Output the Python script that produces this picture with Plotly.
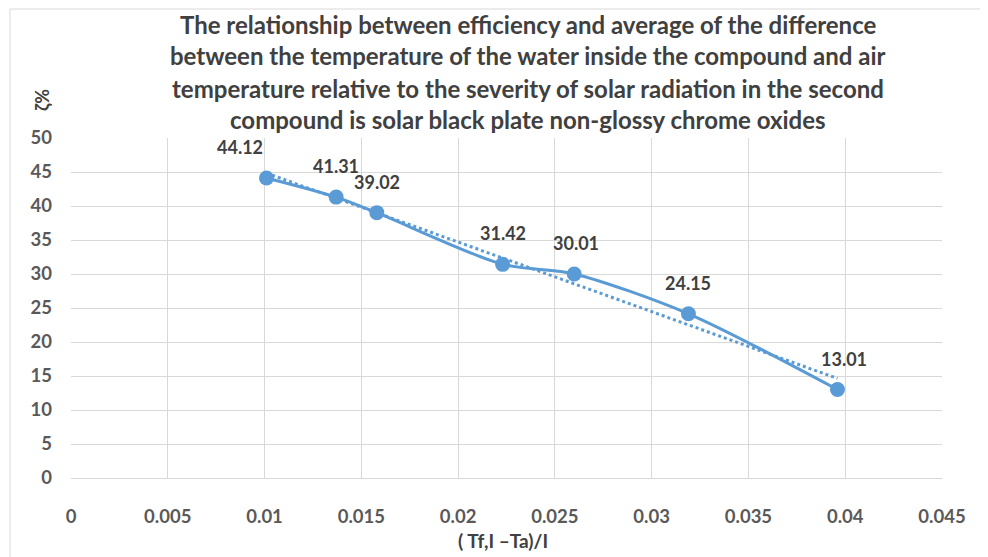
import numpy as np
import plotly.graph_objects as go

# Data
x_vals = [0.0101, 0.0137, 0.0158, 0.0223, 0.0260, 0.0319, 0.0396]
efficiency = [44.12, 41.31, 39.02, 31.42, 30.01, 24.15, 13.01]
x_ticks = [0, 0.005, 0.01, 0.015, 0.02, 0.025, 0.03, 0.035, 0.04, 0.045]
x_tick_text = ["0", "0.005", "0.01", "0.015", "0.02", "0.025", "0.03", "0.035", "0.04", "0.045"]
y_ticks = [0, 5, 10, 15, 20, 25, 30, 35, 40, 45, 50]

title_lines = [
    "The relationship between efficiency and average of the difference",
    "between the temperature of the water inside the compound and air",
    "temperature relative to the severity of solar radiation in the second",
    "compound is solar black plate non-glossy chrome oxides",
]

# label offsets (styling)
label_xshift = [-26, 0, 0, 0, 2, 0, 7]

BLUE = "#5B9BD5"
GRID = "#D9D9D9"
FONT = "Lato"

# linear trendline (least squares on the data, like the spreadsheet trendline)
slope, intercept = np.polyfit(x_vals, efficiency, 1)
trend_x = [min(x_vals), max(x_vals)]
trend_y = [slope * v + intercept for v in trend_x]

fig = go.Figure()
fig.add_trace(go.Scatter(
    x=trend_x, y=trend_y, mode="lines",
    line=dict(color=BLUE, width=3, dash="dot"),
    hoverinfo="skip", showlegend=False,
))
fig.add_trace(go.Scatter(
    x=x_vals, y=efficiency, mode="lines+markers",
    line=dict(color=BLUE, width=3, shape="spline", smoothing=0.8),
    marker=dict(color=BLUE, size=15),
    showlegend=False,
))

for xv, yv, xs in zip(x_vals, efficiency, label_xshift):
    fig.add_annotation(x=xv, y=yv, text=f"{yv:.2f}", showarrow=False,
                       xshift=xs, yshift=31,
                       font=dict(family=FONT, size=18, color="#404040", weight="bold"))

# screen-space geometry of the plot area (page has an 8px body margin)
L, R, T, B = 71, 942, 138, 478
PW, PH = R - L, B - T

def px(sx):
    return (sx - L) / PW

def py(sy):
    return (B - sy) / PH

title_y = [24, 56, 88, 120]
for line, yy in zip(title_lines, title_y):
    fig.add_annotation(xref="paper", yref="paper",
                       x=px(528), y=py(yy),
                       text=line, showarrow=False, xanchor="center", yanchor="middle",
                       font=dict(family=FONT, size=24, color="#404040", weight="bold"))

# y-axis title (top-left, rotated)
fig.add_annotation(xref="paper", yref="paper", x=px(42), y=py(100),
                   text="ζ%", textangle=-90, showarrow=False,
                   xanchor="center", yanchor="middle",
                   font=dict(family=FONT, size=18, color="#404040", weight="bold"))
# x-axis title
fig.add_annotation(xref="paper", yref="paper", x=px(503), y=py(540),
                   text="( Tf,I –Ta)/I", showarrow=False,
                   xanchor="center", yanchor="middle",
                   font=dict(family=FONT, size=19, color="#404040", weight="bold"))

# chart border
fig.add_shape(type="rect", xref="paper", yref="paper",
              x0=px(10), x1=px(981), y0=py(565), y1=py(9),
              line=dict(color="#D9D9D9", width=1), layer="below")

fig.update_layout(
    width=980, height=549,
    margin=dict(l=L - 8, r=980 - (R - 8), t=T - 8, b=549 - (B - 8), autoexpand=False),
    paper_bgcolor="white", plot_bgcolor="white",
    font=dict(family=FONT, color="#595959"),
    xaxis=dict(range=[0, 0.045], tickvals=x_ticks, ticktext=x_tick_text,
               showgrid=True, gridcolor=GRID, gridwidth=1, zeroline=False,
               showline=True, linecolor=GRID, mirror=False,
               ticks="", ticklabelstandoff=22, automargin=False,
               tickfont=dict(family=FONT, size=18.5, color="#595959", weight="bold")),
    yaxis=dict(range=[0, 50], tickvals=y_ticks,
               showgrid=True, gridcolor=GRID, gridwidth=1, zeroline=False,
               showline=False, ticks="", ticklabelstandoff=18, automargin=False,
               tickfont=dict(family=FONT, size=18.5, color="#595959", weight="bold")),
)

fig.write_html("out.html")
